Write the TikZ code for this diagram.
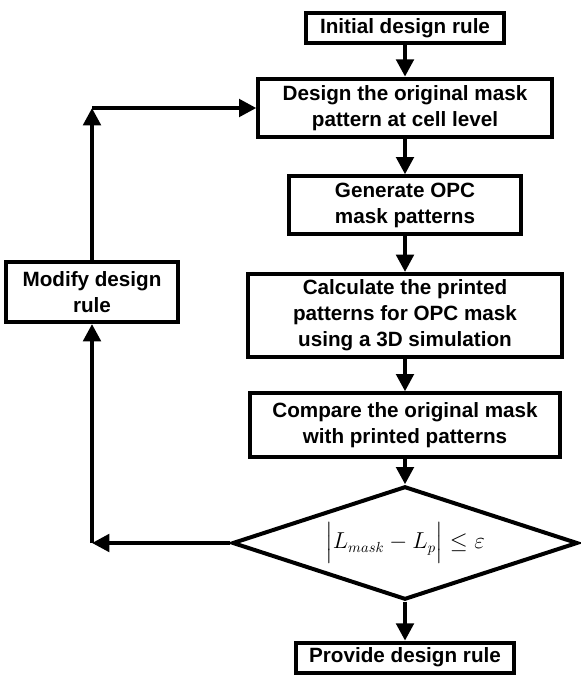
\documentclass[tikz,border=0pt]{standalone}
\usepackage{amsmath}
\usepackage{fontspec}
\setmainfont{Liberation Sans}
\usetikzlibrary{shapes.geometric, arrows.meta, positioning}

\begin{document}
\begin{tikzpicture}[node distance=24pt, every node/.style={font=\bfseries\fontsize{15.5}{19.5}\selectfont}]
      \tikzset{
        stepbox/.style={rectangle, draw=black, line width=3pt, fill=white, align=center, inner sep=2pt},
        decide/.style={diamond, aspect=3.05, draw=black, line width=3pt, fill=white, inner sep=0pt, font=\fontsize{16}{19}\selectfont},
        line/.style={-{Triangle[length=13pt, width=13pt]}, line width=3pt, color=black}
      }
      \useasboundingbox (0,0) rectangle (435.75pt,-506.25pt);
      \node[stepbox, minimum width=148pt, minimum height=22.5pt] (init) at (303.75pt,-21pt) {Initial design rule};
      \node[stepbox, minimum width=220pt, minimum height=44pt, below=23.75pt of init] (design) {Design the original mask\\pattern at cell level};
      \node[stepbox, minimum width=174pt, minimum height=43.5pt, below=26.25pt of design] (generate) {Generate OPC\\mask patterns};
      \node[stepbox, minimum width=235pt, minimum height=62pt, below=26.75pt of generate] (calc) {Calculate the printed\\patterns for OPC mask\\using a 3D simulation};
      \node[stepbox, minimum width=232pt, minimum height=48pt, below=24.5pt of calc] (compare) {Compare the original mask\\with printed patterns};
      \node[decide, minimum width=259pt, minimum height=85pt, below=18.75pt of compare] (check) {$\Bigl|L_{mask}-L_p\Bigr|\le\varepsilon$};
      \node[stepbox, minimum width=163pt, minimum height=22.5pt, below=29.25pt of check] (provide) {Provide design rule};
      \node[stepbox, minimum width=129pt, minimum height=45pt] (modify) at (69pt,-219pt) {Modify design\\rule};
      \coordinate (low) at (check.west -| modify.south);
      \coordinate (high) at (design.west -| modify.north);

      \draw[line] (init) -- (design);
      \draw[line] (design) -- (generate);
      \draw[line] (generate) -- (calc);
      \draw[line] (calc) -- (compare);
      \draw[line] (compare) -- (check);
      \draw[line] (check) -- (provide);
      % loop back when the check fails
      \draw[line] (check.west) -- (low);
      \draw[line] (low) -- (modify);
      \draw[line] (modify) -- (high);
      \draw[line] (high) -- (design);
    \end{tikzpicture}
\end{document}
